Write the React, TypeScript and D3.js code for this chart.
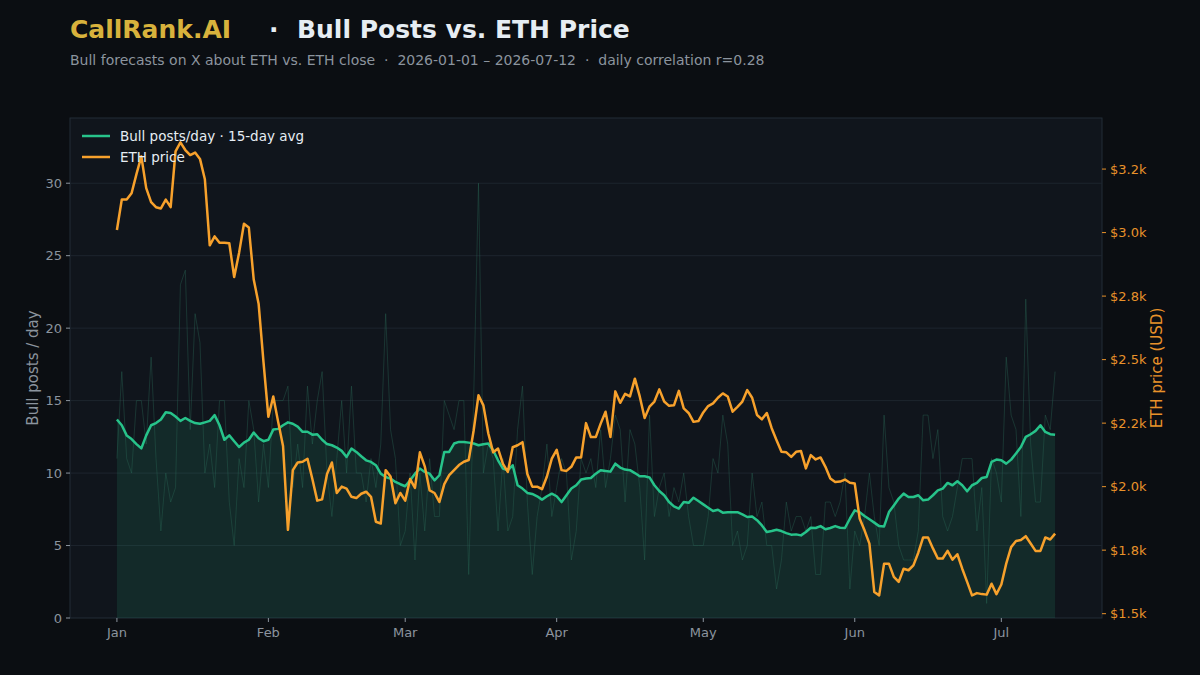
import React from "react";
import * as d3 from "d3";

const START = Date.UTC(2026, 0, 1);
const DAY = 86400000;

const ethPrice = [
  3010, 3130, 3130, 3155, 3230, 3300, 3175, 3120, 3100, 3095, 3130, 3100, 3320, 3355, 3325, 3305,
  3315, 3290, 3210, 2950, 2985, 2960, 2960, 2958, 2825, 2920, 3035, 3020, 2815, 2720, 2490, 2275,
  2355, 2255, 2160, 1830, 2065, 2095, 2098, 2110, 2030, 1945, 1950, 2050, 2095, 1975, 2000, 1992,
  1960, 1955, 1972, 1980, 1960, 1862, 1855, 2065, 2040, 1935, 1975, 1945, 2030, 1995, 2135, 2080,
  1985, 1975, 1940, 2010, 2045, 2065, 2085, 2098, 2105, 2220, 2360, 2320, 2210, 2135, 2150, 2090,
  2058, 2155, 2163, 2175, 2050, 2000, 2000, 1990, 2040, 2110, 2145, 2065, 2062, 2078, 2115, 2115,
  2250, 2195, 2195, 2248, 2295, 2195, 2375, 2330, 2365, 2355, 2425, 2355, 2270, 2315, 2335, 2383,
  2335, 2318, 2320, 2377, 2308, 2290, 2255, 2258, 2292, 2317, 2328, 2350, 2367, 2355, 2295, 2314,
  2335, 2380, 2350, 2282, 2265, 2290, 2230, 2183, 2137, 2135, 2117, 2137, 2140, 2072, 2124, 2107,
  2115, 2078, 2032, 2018, 2020, 2028, 2015, 2012, 1875, 1828, 1776, 1585, 1572, 1697, 1697, 1645,
  1625, 1677, 1671, 1690, 1740, 1800, 1800, 1757, 1717, 1717, 1747, 1713, 1734, 1677, 1625, 1572,
  1581, 1577, 1575, 1618, 1577, 1615, 1697, 1762, 1786, 1790, 1805, 1776, 1747, 1747, 1800, 1792,
  1815,
];

const postsAvg = [
  13.7, 13.3, 12.6, 12.35, 12.0, 11.7, 12.6, 13.3, 13.45, 13.7, 14.2, 14.15, 13.9, 13.6, 13.8, 13.6,
  13.45, 13.4, 13.5, 13.6, 14.0, 13.3, 12.3, 12.6, 12.2, 11.8, 12.1, 12.3, 12.8, 12.4, 12.2, 12.3,
  13.0, 13.05, 13.3, 13.5, 13.4, 13.2, 12.85, 12.85, 12.65, 12.68, 12.3, 12.0, 11.92, 11.76, 11.53, 11.11,
  11.69, 11.46, 11.16, 10.88, 10.77, 10.54, 9.96, 9.73, 9.62, 9.39, 9.23, 9.09, 9.5, 9.96, 10.31, 10.08,
  9.96, 9.5, 9.85, 11.46, 11.46, 12.04, 12.15, 12.15, 12.1, 12.04, 11.92, 11.99, 12.04, 11.58, 10.88, 10.31,
  10.19, 10.54, 9.16, 8.93, 8.63, 8.56, 8.4, 8.17, 8.4, 8.58, 8.4, 8.0, 8.47, 8.93, 9.16, 9.55,
  9.62, 9.66, 9.96, 10.2, 10.15, 10.1, 10.65, 10.38, 10.24, 10.2, 10.0, 9.78, 9.78, 9.7, 9.16, 8.76,
  8.47, 8.0, 7.7, 7.55, 8.0, 7.95, 8.3, 8.07, 7.84, 7.61, 7.38, 7.47, 7.27, 7.3, 7.3, 7.3,
  7.15, 6.97, 7.0, 6.75, 6.39, 5.93, 6.0, 6.09, 6.0, 5.86, 5.75, 5.77, 5.7, 5.93, 6.23, 6.21,
  6.34, 6.12, 6.21, 6.34, 6.23, 6.21, 6.85, 7.43, 7.3, 7.04, 6.81, 6.58, 6.34, 6.32, 7.31, 7.77,
  8.24, 8.58, 8.35, 8.35, 8.47, 8.12, 8.17, 8.47, 8.81, 8.93, 9.32, 9.16, 9.43, 9.16, 8.74, 9.16,
  9.32, 9.66, 9.73, 10.77, 10.93, 10.88, 10.65, 10.93, 11.35, 11.8, 12.5, 12.68, 12.91, 13.3, 12.84, 12.68,
  12.65,
];

const postsDaily = [
  11, 17, 11, 10, 15, 15, 12, 18, 11, 6, 10, 8, 9, 23, 24, 13,
  21, 19, 10, 12, 9, 15, 15, 8, 5, 11, 9, 15, 13, 8, 12, 9,
  15, 15, 15, 16, 9, 12, 9, 16, 12, 15, 17, 10, 7, 11, 15, 10,
  16, 10, 10, 8, 11, 9, 12, 21, 13, 11, 5, 6, 10, 4, 10, 6,
  11, 7, 7, 15, 14, 13, 15, 15, 3, 15, 30, 10, 12, 11, 6, 11,
  6, 7, 13, 16, 8, 3, 7, 9, 12, 7, 9, 11, 10, 4, 6, 11,
  10, 11, 9, 13, 9, 11, 14, 13, 8, 13, 12, 9, 4, 14, 7, 9,
  10, 7, 9, 8, 10, 7, 5, 5, 5, 7, 11, 10, 14, 12, 5, 6,
  4, 5, 10, 7, 8, 5, 5, 2, 4, 8, 6, 7, 7, 6, 7, 3,
  3, 8, 8, 7, 8, 10, 2, 6, 5, 7, 10, 7, 5, 14, 9, 8,
  5, 4, 4, 4, 6, 14, 14, 11, 13, 7, 6, 7, 9, 11, 11, 11,
  6, 9, 1, 11, 10, 8, 18, 14, 13, 7, 22, 12, 8, 8, 14, 13,
  17,
];

const leftTicks = [0, 5, 10, 15, 20, 25, 30];
const rightTicks = [1500, 1750, 2000, 2250, 2500, 2750, 3000, 3250];
const rightTickLabels = ["$1.5k", "$1.8k", "$2.0k", "$2.2k", "$2.5k", "$2.8k", "$3.0k", "$3.2k"];
const monthTicks = ["Jan", "Feb", "Mar", "Apr", "May", "Jun", "Jul"];

const FONT = "'DejaVu Sans', sans-serif";
const GREEN = "#27c38a";
const ORANGE = "#f7a12c";
const ORANGE_TEXT = "#e8922a";
const GRAY = "#8b949e";

export default function App() {
  const W = 1200, H = 675;
  const L = 70, R = 1102, T = 118, B = 618;
  const n = ethPrice.length;
  const dates = ethPrice.map((_, i) => new Date(START + i * DAY));
  const pad = (n - 1) * 0.05 * DAY;
  const x = d3.scaleTime()
    .domain([new Date(START - pad), new Date(START + (n - 1) * DAY + pad)])
    .range([L, R]);
  const yL = d3.scaleLinear().domain([0, 34.5]).range([B, T]);
  const yR = d3.scaleLinear().domain([1483, 3451]).range([B, T]);

  const area = d3.area<number>().x((_, i) => x(dates[i])).y0(yL(0)).y1((d) => yL(d));
  const lineL = d3.line<number>().x((_, i) => x(dates[i])).y((d) => yL(d));
  const lineR = d3.line<number>().x((_, i) => x(dates[i])).y((d) => yR(d));

  const months = monthTicks.map((m, i) => ({ m, d: new Date(Date.UTC(2026, i, 1)) }));

  return (
    <svg width={W} height={H} style={{ display: "block", position: "absolute", left: 0, top: 0 }} fontFamily={FONT}>
      <rect width={W} height={H} fill="#0b0e12" />
      <text y={38} fontSize={25} fontWeight="bold">
        <tspan x={70} fill="#d8b23c">CallRank.AI</tspan>
        <tspan x={269} fill="#e6edf3">·</tspan>
        <tspan x={297} fill="#e6edf3">Bull Posts vs. ETH Price</tspan>
      </text>
      <text x={70} y={65} fontSize={14} fill={GRAY} style={{ whiteSpace: "pre" }} xmlSpace="preserve">
        {"Bull forecasts on X about ETH vs. ETH close  ·  2026-01-01 – 2026-07-12  ·  daily correlation r=0.28"}
      </text>

      <rect x={L} y={T} width={R - L} height={B - T} fill="#10151c" stroke="#232c36" strokeWidth={1} />
      {leftTicks.filter((t) => t > 0).map((t) => (
        <line key={t} x1={L} x2={R} y1={yL(t)} y2={yL(t)} stroke="#1d252e" strokeWidth={1} />
      ))}

      <path d={area(postsAvg) || ""} fill={GREEN} fillOpacity={0.12} />
      <path d={lineL(postsDaily) || ""} fill="none" stroke="#2a6a58" strokeOpacity={0.38} strokeWidth={1} />
      <path d={lineL(postsAvg) || ""} fill="none" stroke={GREEN} strokeWidth={2.5} strokeLinejoin="round" />
      <path d={lineR(ethPrice) || ""} fill="none" stroke={ORANGE} strokeWidth={2.5} strokeLinejoin="round" />

      {leftTicks.map((t) => (
        <g key={t}>
          <line x1={L - 4} x2={L} y1={yL(t)} y2={yL(t)} stroke={GRAY} />
          <text x={L - 8} y={yL(t)} dy="0.35em" textAnchor="end" fontSize={13} fill={GRAY}>{t}</text>
        </g>
      ))}
      {rightTicks.map((t, i) => (
        <g key={t}>
          <line x1={R} x2={R + 4} y1={yR(t)} y2={yR(t)} stroke={ORANGE_TEXT} />
          <text x={R + 8} y={yR(t)} dy="0.35em" fontSize={13} fill={ORANGE_TEXT}>{rightTickLabels[i]}</text>
        </g>
      ))}
      {months.map(({ m, d }) => (
        <g key={m}>
          <line x1={x(d)} x2={x(d)} y1={B} y2={B + 4} stroke={GRAY} />
          <text x={x(d)} y={B + 19} textAnchor="middle" fontSize={13} fill={GRAY}>{m}</text>
        </g>
      ))}

      <text transform={`translate(38,${(T + B) / 2}) rotate(-90)`} textAnchor="middle" fontSize={15} fill={GRAY}>
        Bull posts / day
      </text>
      <text transform={`translate(1162,${(T + B) / 2}) rotate(-90)`} textAnchor="middle" fontSize={15} fill={ORANGE_TEXT}>
        ETH price (USD)
      </text>

      <g fontSize={13.5} fill="#e6edf3">
        <line x1={82} x2={110} y1={136} y2={136} stroke={GREEN} strokeWidth={2.5} />
        <text x={120} y={136} dy="0.35em">Bull posts/day · 15-day avg</text>
        <line x1={82} x2={110} y1={157} y2={157} stroke={ORANGE} strokeWidth={2.5} />
        <text x={120} y={157} dy="0.35em">ETH price</text>
      </g>
    </svg>
  );
}
